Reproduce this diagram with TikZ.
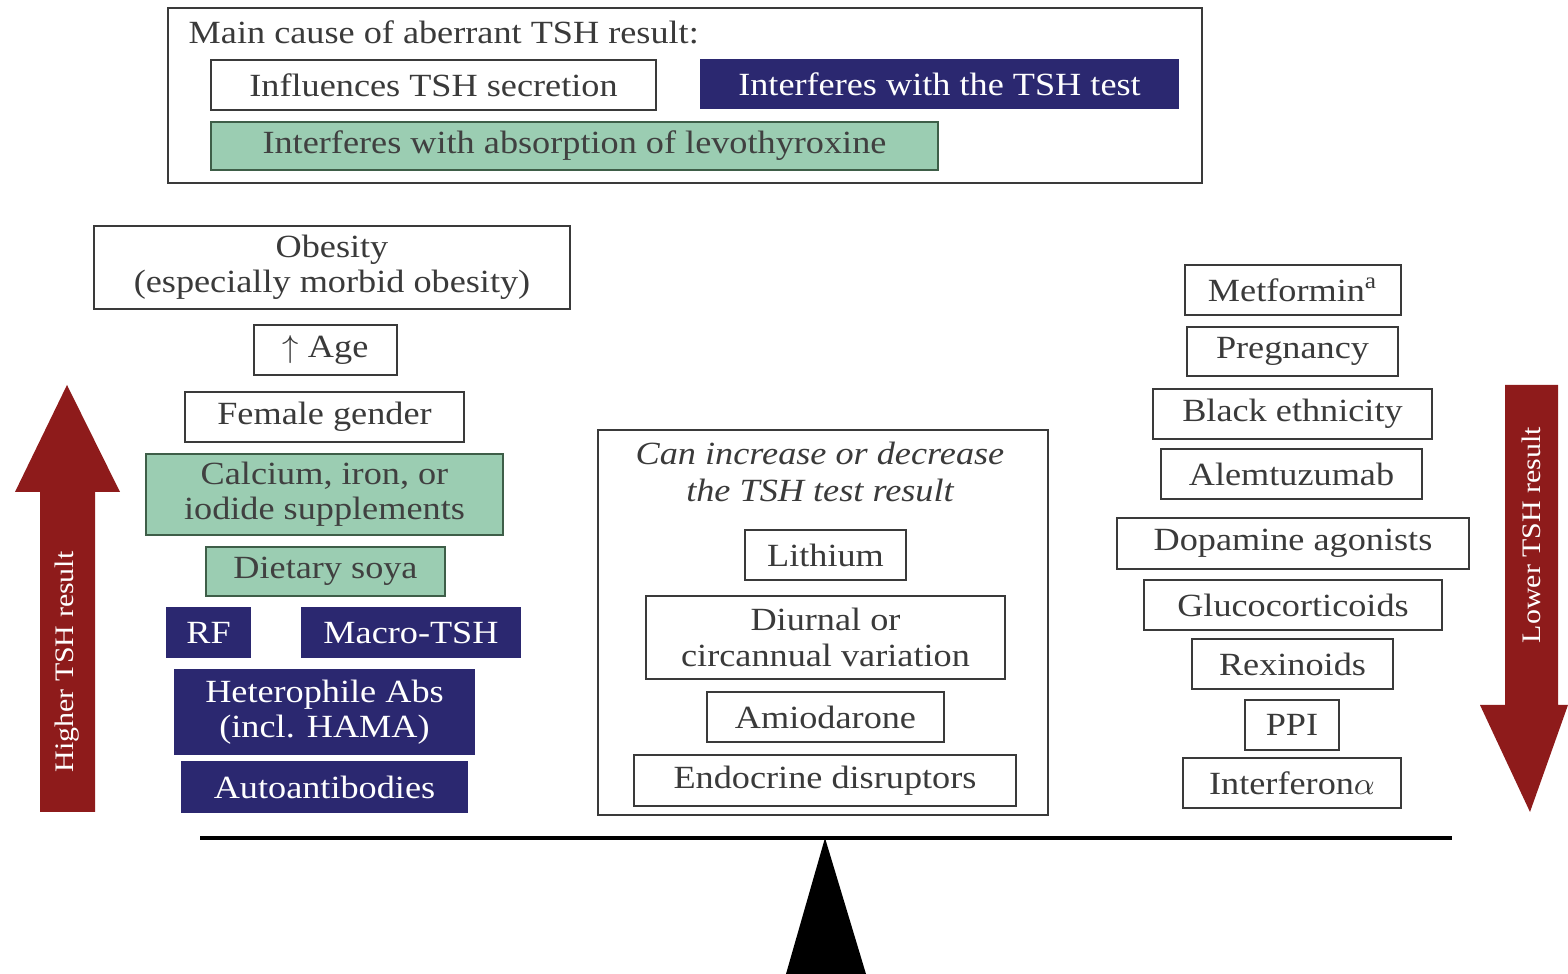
\documentclass[tikz,border=0pt]{standalone}
\usepackage{fontspec}
\setmainfont{Liberation Serif}[FakeStretch=1.12]

\definecolor{navy}{HTML}{2B2870}
\definecolor{mint}{HTML}{9BCDB2}
\definecolor{mintline}{HTML}{3E5E48}
\definecolor{wine}{HTML}{8E1B1B}
\definecolor{ink}{HTML}{3A3A3A}

\begin{document}
\begin{tikzpicture}[x=0.01cm,y=-0.01cm]
			\tikzstyle{plain} = [draw=ink, fill=white, text=ink, line width=0.6pt, align=center, inner sep=0pt, font=\fontsize{9.2}{10}\selectfont]
			\tikzstyle{testbox} = [plain, draw=navy, fill=navy, text=white]
			\tikzstyle{absorb} = [plain, draw=mintline, fill=mint, text=black!75]
			\tikzstyle{arrowtext} = [text=white, rotate=90, inner sep=0pt, font=\fontsize{7.6}{9}\selectfont]
			\useasboundingbox (0,0) rectangle (1568,974);
			
			% legend
			\node[plain, minimum width=10.34cm, minimum height=1.75cm](legend) at (685,95.5) {};
			\node[text=ink, anchor=west, inner sep=0pt, font=\fontsize{9.2}{10}\selectfont](title) at (188,32) {Main cause of aberrant TSH result:};
			\node[plain, minimum width=4.45cm, minimum height=0.5cm](secretion) at (433.5,85) {Influences TSH secretion};
			\node[testbox, minimum width=4.77cm, minimum height=0.48cm](testkey) at (939.5,84) {Interferes with the TSH test};
			\node[absorb, minimum width=7.27cm, minimum height=0.48cm](absorbkey) at (574.5,146) {Interferes with absorption of levothyroxine};
			
			% higher TSH
			\node[plain, minimum width=4.76cm, minimum height=0.83cm](obesity) at (332,267.5) {Obesity\\(especially morbid obesity)};
			\node[plain, minimum width=1.43cm, minimum height=0.5cm](age) at (325.5,350) {$\uparrow$ Age};
			\node[plain, minimum width=2.79cm, minimum height=0.5cm](female) at (324.5,417) {Female gender};
			\node[absorb, minimum width=3.57cm, minimum height=0.81cm](calcium) at (324.5,494.5) {Calcium, iron, or\\iodide supplements};
			\node[absorb, minimum width=2.39cm, minimum height=0.49cm](soya) at (325.5,571.5) {Dietary soya};
			\node[testbox, minimum width=0.83cm, minimum height=0.49cm](rf) at (208.5,632.5) {RF};
			\node[testbox, minimum width=2.18cm, minimum height=0.49cm](macro) at (411,632.5) {Macro-TSH};
			\node[testbox, minimum width=2.99cm, minimum height=0.84cm](hetero) at (324.5,712) {Heterophile Abs\\(incl. HAMA)};
			\node[testbox, minimum width=2.85cm, minimum height=0.5cm](autoab) at (324.5,787) {Autoantibodies};
			
			% either way
			\node[plain, minimum width=4.5cm, minimum height=3.85cm](either) at (823,622.5) {};
			\node[text=ink, align=center, font=\fontsize{9.2}{10.5}\selectfont\itshape](eithertitle) at (820,472) {Can increase or decrease\\the TSH test result};
			\node[plain, minimum width=1.61cm, minimum height=0.5cm](lithium) at (825.5,555) {Lithium};
			\node[plain, minimum width=3.59cm, minimum height=0.83cm](diurnal) at (825.5,637.5) {Diurnal or\\circannual variation};
			\node[plain, minimum width=2.37cm, minimum height=0.5cm](amio) at (825.5,717) {Amiodarone};
			\node[plain, minimum width=3.82cm, minimum height=0.51cm](endocrine) at (825,780.5) {Endocrine disruptors};
			
			% lower TSH
			\node[plain, minimum width=2.16cm, minimum height=0.5cm](metformin) at (1293,290) {Metformin\textsuperscript{a}};
			\node[plain, minimum width=2.11cm, minimum height=0.49cm](pregnancy) at (1292.5,351.5) {Pregnancy};
			\node[plain, minimum width=2.79cm, minimum height=0.5cm](black) at (1292.5,414) {Black ethnicity};
			\node[plain, minimum width=2.61cm, minimum height=0.5cm](alem) at (1291.5,474) {Alemtuzumab};
			\node[plain, minimum width=3.52cm, minimum height=0.51cm](dopamine) at (1293,543.5) {Dopamine agonists};
			\node[plain, minimum width=2.98cm, minimum height=0.5cm](gluco) at (1293,605) {Glucocorticoids};
			\node[plain, minimum width=2.01cm, minimum height=0.5cm](rexi) at (1292.5,664) {Rexinoids};
			\node[plain, minimum width=0.94cm, minimum height=0.5cm](ppi) at (1292,725) {PPI};
			\node[plain, minimum width=2.18cm, minimum height=0.5cm](interferon) at (1292,783) {Interferon$\alpha$};
			
			% arrows
			\fill[wine] (67,385) -- (120,492) -- (95,492) -- (95,812) -- (40,812) -- (40,492) -- (15,492) -- cycle;
			\node[arrowtext](higher) at (67,662) {Higher TSH result};
			\fill[wine] (1505,385) -- (1558,385) -- (1558,705) -- (1568,705) -- (1530,812) -- (1480,705) -- (1505,705) -- cycle;
			\node[arrowtext](lower) at (1531,535) {Lower TSH result};
			
			% balance
			\coordinate (beamleft) at (200,838);
			\coordinate (beamright) at (1452,838);
			\coordinate (pivot) at (825,838);
			\draw[line width=0.9pt](beamleft) -- (beamright);
			\fill (pivot) -- (866,974) -- (786,974) -- cycle;
			
\end{tikzpicture}
\end{document}
